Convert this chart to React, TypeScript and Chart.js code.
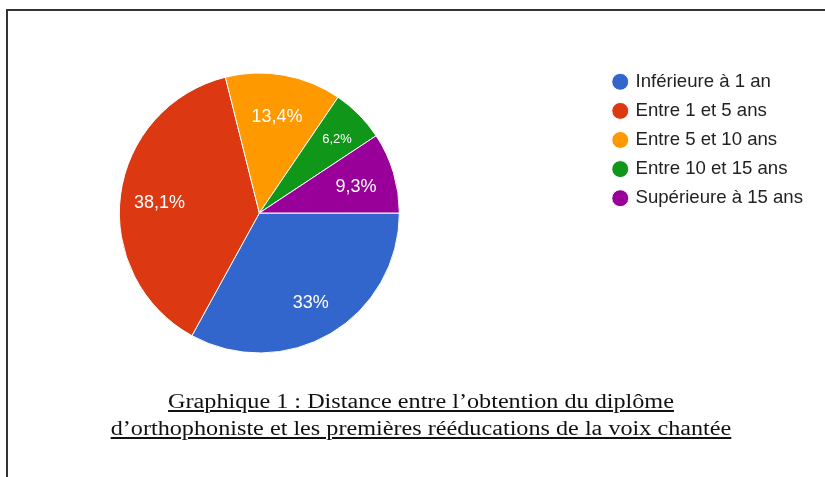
import React, { useEffect, useRef } from "react";
import { Chart, registerables } from "chart.js";

Chart.register(...registerables);

const categories = [
  "Inférieure à 1 an",
  "Entre 1 et 5 ans",
  "Entre 5 et 10 ans",
  "Entre 10 et 15 ans",
  "Supérieure à 15 ans",
];
const percentages = [33, 38.1, 13.4, 6.2, 9.3];
const sliceColors = ["#3366cc", "#dc3912", "#ff9900", "#109618", "#990099"];
const captionLines = [
  "Graphique 1 : Distance entre l’obtention du diplôme",
  "d’orthophoniste et les premières rééducations de la voix chantée",
];

const formatPct = (v: number) =>
  (Number.isInteger(v) ? String(v) : String(v).replace(".", ",")) + "%";

const sliceLabels = {
  id: "sliceLabels",
  afterDatasetsDraw(chart: any) {
    const ctx = chart.ctx;
    const meta = chart.getDatasetMeta(0);
    meta.data.forEach((arc: any, i: number) => {
      const p = arc.getProps(["x", "y", "startAngle", "endAngle", "outerRadius"], true);
      const mid = (p.startAngle + p.endAngle) / 2;
      const v = percentages[i];
      const small = v < 8;
      const d = p.outerRadius * (small ? 0.78 : 0.72);
      ctx.save();
      ctx.fillStyle = "#ffffff";
      ctx.font = `${small ? 13 : 18}px "Liberation Sans", Arial, sans-serif`;
      ctx.textAlign = "center";
      ctx.textBaseline = "middle";
      ctx.fillText(formatPct(v), p.x + Math.cos(mid) * d, p.y + Math.sin(mid) * d + 3);
      ctx.restore();
    });
  },
};

export default function App() {
  const canvasRef = useRef<HTMLCanvasElement | null>(null);

  useEffect(() => {
    const canvas = canvasRef.current;
    if (!canvas) return;
    const chart = new Chart(canvas, {
      type: "pie",
      data: {
        labels: categories,
        datasets: [
          {
            data: percentages,
            backgroundColor: sliceColors,
            borderColor: "#ffffff",
            borderWidth: 1,
            radius: 140,
          },
        ],
      },
      options: {
        responsive: false,
        animation: false,
        events: [],
        rotation: 90,
        layout: { padding: { top: 62, bottom: 16, left: 0, right: 12 } },
        plugins: {
          tooltip: { enabled: false },
          legend: {
            position: "right",
            align: "start",
            labels: {
              usePointStyle: true,
              pointStyle: "circle",
              boxWidth: 12,
              boxHeight: 12,
              padding: 10.5,
              color: "#222222",
              font: { size: 18.6, family: '"Liberation Sans", Arial, sans-serif' },
            },
          },
        },
      },
      plugins: [sliceLabels],
    });
    return () => chart.destroy();
  }, []);

  return (
    <div
      style={{
        position: "fixed",
        left: 0,
        top: 0,
        width: 825,
        height: 477,
        overflow: "hidden",
        background: "#ffffff",
      }}
    >
      <canvas
        ref={canvasRef}
        width={910}
        height={380}
        style={{ position: "absolute", left: -85, top: 0, width: 910, height: 380 }}
      />
      <div
        style={{
          position: "absolute",
          left: 6,
          top: 9,
          width: 830,
          height: 480,
          borderTop: "2px solid #333333",
          borderLeft: "2px solid #333333",
          pointerEvents: "none",
        }}
      />
      <div
        style={{
          position: "absolute",
          left: 0,
          width: 842,
          top: 388,
          textAlign: "center",
          fontFamily: '"Liberation Serif", "Times New Roman", serif',
          fontSize: 20.5,
          lineHeight: "27px",
          color: "#111111",
          transform: "scaleX(1.18)",
          transformOrigin: "421px 0",
        }}
      >
        {captionLines.map((line, i) => (
          <div key={i}>
            <span style={{ textDecoration: "underline" }}>{line}</span>
          </div>
        ))}
      </div>
    </div>
  );
}
